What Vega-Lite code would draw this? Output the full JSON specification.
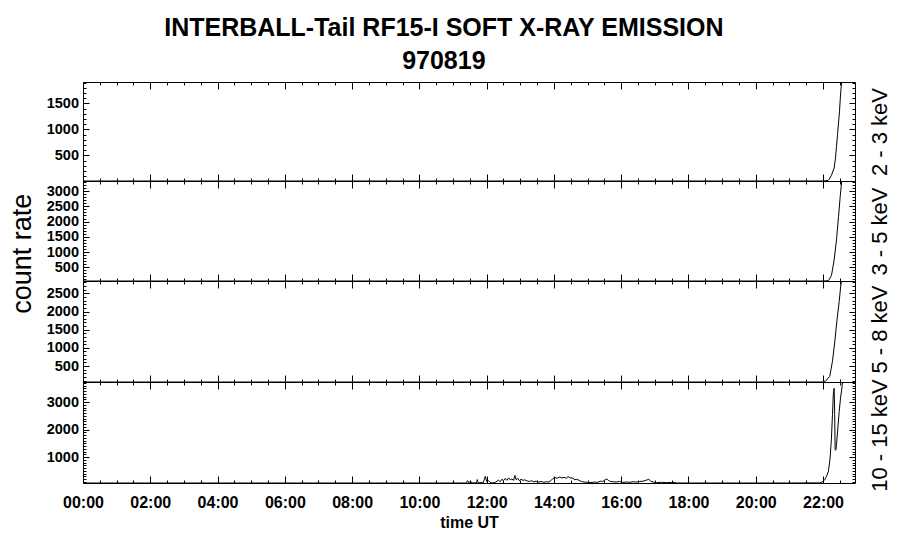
{
"$schema": "https://vega.github.io/schema/vega-lite/v6.json",
"background": "white",
"padding": {"left": 9, "top": 15, "right": 5, "bottom": 5},
"config": {
  "view": {"stroke": null},
  "font": "Liberation Sans",
  "axis": {"labelFont": "Liberation Sans", "labelFontSize": 16, "labelFontWeight": "bold", "labelColor": "black", "titleFont": "Liberation Sans", "titleColor": "black", "titleFontWeight": "normal", "domainColor": "black", "tickColor": "black", "domainWidth": 1, "tickWidth": 1, "labelOverlap": false, "labelFlush": false, "labelBound": false, "grid": false}
},
"title": {"text": ["INTERBALL-Tail RF15-I SOFT X-RAY EMISSION", "970819"], "font": "Liberation Sans", "fontSize": 25, "fontWeight": "bold", "color": "black", "lineHeight": 33, "anchor": "middle", "frame": "bounds", "offset": 8, "dx": -6},
"datasets": {
  "p1": [{"t":0,"v":10},{"t":11,"v":10},{"t":22.0,"v":10},{"t":22.15,"v":20},{"t":22.18,"v":42},{"t":22.25,"v":120},{"t":22.33,"v":260},{"t":22.37,"v":450},{"t":22.4,"v":670},{"t":22.43,"v":900},{"t":22.46,"v":1125},{"t":22.49,"v":1350},{"t":22.51,"v":1567},{"t":22.53,"v":1750},{"t":22.55,"v":1894},{"t":22.56,"v":1910}],
  "p2": [{"t":0,"v":50},{"t":11,"v":50},{"t":22.0,"v":50},{"t":22.15,"v":60},{"t":22.18,"v":90},{"t":22.25,"v":230},{"t":22.28,"v":413},{"t":22.33,"v":740},{"t":22.4,"v":1400},{"t":22.46,"v":2160},{"t":22.51,"v":2820},{"t":22.55,"v":3260},{"t":22.56,"v":3330}],
  "p3": [{"t":0,"v":60},{"t":11,"v":60},{"t":22.0,"v":60},{"t":22.08,"v":90},{"t":22.2,"v":218},{"t":22.28,"v":630},{"t":22.35,"v":1180},{"t":22.41,"v":1730},{"t":22.48,"v":2280},{"t":22.53,"v":2740},{"t":22.55,"v":2840}],
  "p4": [{"t":0,"v":55},{"t":10,"v":55},{"t":11.4,"v":55},{"t":11.43,"v":140},{"t":11.47,"v":60},{"t":11.52,"v":120},{"t":11.56,"v":60},{"t":11.7,"v":60},{"t":11.72,"v":180},{"t":11.75,"v":60},{"t":11.9,"v":70},{"t":11.96,"v":300},{"t":12.0,"v":110},{"t":12.05,"v":150},{"t":12.1,"v":80},{"t":12.15,"v":60},{"t":12.25,"v":70},{"t":12.35,"v":160},{"t":12.4,"v":100},{"t":12.45,"v":190},{"t":12.5,"v":140},{"t":12.55,"v":220},{"t":12.6,"v":150},{"t":12.65,"v":240},{"t":12.7,"v":170},{"t":12.75,"v":200},{"t":12.8,"v":150},{"t":12.84,"v":330},{"t":12.88,"v":170},{"t":12.92,"v":230},{"t":12.97,"v":140},{"t":13.02,"v":190},{"t":13.08,"v":150},{"t":13.13,"v":170},{"t":13.2,"v":130},{"t":13.27,"v":110},{"t":13.33,"v":140},{"t":13.4,"v":100},{"t":13.47,"v":120},{"t":13.55,"v":90},{"t":13.62,"v":110},{"t":13.7,"v":80},{"t":13.78,"v":100},{"t":13.85,"v":90},{"t":13.92,"v":150},{"t":13.97,"v":220},{"t":14.03,"v":250},{"t":14.1,"v":230},{"t":14.17,"v":270},{"t":14.23,"v":240},{"t":14.3,"v":260},{"t":14.37,"v":230},{"t":14.42,"v":290},{"t":14.48,"v":240},{"t":14.55,"v":230},{"t":14.62,"v":180},{"t":14.68,"v":190},{"t":14.75,"v":150},{"t":14.82,"v":110},{"t":14.9,"v":90},{"t":15.0,"v":80},{"t":15.1,"v":70},{"t":15.2,"v":90},{"t":15.3,"v":80},{"t":15.38,"v":120},{"t":15.45,"v":110},{"t":15.52,"v":170},{"t":15.57,"v":200},{"t":15.62,"v":150},{"t":15.68,"v":110},{"t":15.75,"v":100},{"t":15.85,"v":90},{"t":15.95,"v":110},{"t":16.05,"v":80},{"t":16.15,"v":90},{"t":16.25,"v":80},{"t":16.35,"v":100},{"t":16.45,"v":90},{"t":16.55,"v":110},{"t":16.65,"v":120},{"t":16.75,"v":160},{"t":16.82,"v":190},{"t":16.88,"v":120},{"t":16.95,"v":90},{"t":17.05,"v":70},{"t":17.2,"v":80},{"t":17.35,"v":70},{"t":17.5,"v":75},{"t":17.62,"v":70},{"t":17.66,"v":55},{"t":21.0,"v":55},{"t":21.9,"v":60},{"t":21.95,"v":80},{"t":22.0,"v":110},{"t":22.05,"v":170},{"t":22.1,"v":290},{"t":22.16,"v":480},{"t":22.21,"v":960},{"t":22.25,"v":1690},{"t":22.28,"v":2540},{"t":22.31,"v":3390},{"t":22.33,"v":3500},{"t":22.345,"v":2600},{"t":22.36,"v":1270},{"t":22.38,"v":1250},{"t":22.4,"v":1450},{"t":22.44,"v":2050},{"t":22.48,"v":2660},{"t":22.52,"v":3150},{"t":22.56,"v":3510},{"t":22.58,"v":3730}]
},
"spacing": 0,
"vconcat": [
 {
  "title": {"text": "count rate", "orient": "left", "font": "Liberation Sans", "fontSize": 27, "fontWeight": "normal", "color": "black", "anchor": "middle", "frame": "bounds", "offset": 9, "dx": 52},
  "spacing": 0,
  "bounds": "flush",
  "vconcat": [
   {
    "data": {"name": "p1"},
    "width": 772, "height": 99,
    "resolve": {"axis": {"x": "independent", "y": "independent"}},
    "layer": [
     {"mark": {"type": "line", "color": "black", "strokeWidth": 1, "clip": true},
      "encoding": {
       "x": {"field": "t", "type": "quantitative", "scale": {"domain": [0, 22.95], "nice": false, "zero": false}, "axis": {"orient": "bottom", "values": [0,2,4,6,8,10,12,14,16,18,20,22], "tickSize": -7, "labels": false, "title": null}},
       "y": {"field": "v", "type": "quantitative", "scale": {"domain": [10, 1910], "nice": false, "zero": false}, "axis": {"orient": "left", "values": [500,1000,1500], "format": "d", "labelFontSize": 14.5, "tickSize": -6, "labelPadding": 10.5, "title": null}}}},
     {"mark": {"type": "line", "opacity": 0},
      "encoding": {
       "x": {"field": "t", "type": "quantitative", "scale": {"domain": [0, 22.95], "nice": false, "zero": false}, "axis": {"orient": "bottom", "values": [0.5,1,1.5,2.5,3,3.5,4.5,5,5.5,6.5,7,7.5,8.5,9,9.5,10.5,11,11.5,12.5,13,13.5,14.5,15,15.5,16.5,17,17.5,18.5,19,19.5,20.5,21,21.5,22.5], "tickSize": -3, "labels": false, "domain": false, "title": null}},
       "y": {"field": "v", "type": "quantitative", "scale": {"domain": [10, 1910], "nice": false, "zero": false}, "axis": {"orient": "left", "values": [100,200,300,400,500,600,700,800,900,1000,1100,1200,1300,1400,1500,1600,1700,1800,1900], "tickSize": -3, "labels": false, "domain": false, "title": null}}}},
     {"mark": {"type": "line", "opacity": 0},
      "encoding": {
       "x": {"field": "t", "type": "quantitative", "scale": {"domain": [0, 22.95], "nice": false, "zero": false}, "axis": {"orient": "top", "values": [0,2,4,6,8,10,12,14,16,18,20,22], "tickSize": -7, "labels": false, "title": null}},
       "y": {"field": "v", "type": "quantitative", "scale": {"domain": [10, 1910], "nice": false, "zero": false}, "axis": {"orient": "right", "values": [500,1000,1500], "tickSize": -6, "labels": false, "title": "2 - 3 keV", "titleAngle": 270, "titleBaseline": "top", "titleFontSize": 22, "titlePadding": 14}}}},
     {"mark": {"type": "line", "opacity": 0},
      "encoding": {
       "x": {"field": "t", "type": "quantitative", "scale": {"domain": [0, 22.95], "nice": false, "zero": false}, "axis": {"orient": "top", "values": [0.5,1,1.5,2.5,3,3.5,4.5,5,5.5,6.5,7,7.5,8.5,9,9.5,10.5,11,11.5,12.5,13,13.5,14.5,15,15.5,16.5,17,17.5,18.5,19,19.5,20.5,21,21.5,22.5], "tickSize": -3, "labels": false, "domain": false, "title": null}},
       "y": {"field": "v", "type": "quantitative", "scale": {"domain": [10, 1910], "nice": false, "zero": false}, "axis": {"orient": "right", "values": [100,200,300,400,500,600,700,800,900,1000,1100,1200,1300,1400,1500,1600,1700,1800,1900], "tickSize": -3, "labels": false, "domain": false, "title": null}}}}
    ]
   },
   {
    "data": {"name": "p2"},
    "width": 772, "height": 100,
    "resolve": {"axis": {"x": "independent", "y": "independent"}},
    "layer": [
     {"mark": {"type": "line", "color": "black", "strokeWidth": 1, "clip": true},
      "encoding": {
       "x": {"field": "t", "type": "quantitative", "scale": {"domain": [0, 22.95], "nice": false, "zero": false}, "axis": {"orient": "bottom", "values": [0,2,4,6,8,10,12,14,16,18,20,22], "tickSize": -7, "labels": false, "title": null}},
       "y": {"field": "v", "type": "quantitative", "scale": {"domain": [50, 3330], "nice": false, "zero": false}, "axis": {"orient": "left", "values": [500,1000,1500,2000,2500,3000], "format": "d", "labelFontSize": 14.5, "tickSize": -6, "labelPadding": 10.5, "title": null}}}},
     {"mark": {"type": "line", "opacity": 0},
      "encoding": {
       "x": {"field": "t", "type": "quantitative", "scale": {"domain": [0, 22.95], "nice": false, "zero": false}, "axis": {"orient": "bottom", "values": [0.5,1,1.5,2.5,3,3.5,4.5,5,5.5,6.5,7,7.5,8.5,9,9.5,10.5,11,11.5,12.5,13,13.5,14.5,15,15.5,16.5,17,17.5,18.5,19,19.5,20.5,21,21.5,22.5], "tickSize": -3, "labels": false, "domain": false, "title": null}},
       "y": {"field": "v", "type": "quantitative", "scale": {"domain": [50, 3330], "nice": false, "zero": false}, "axis": {"orient": "left", "values": [100,200,300,400,500,600,700,800,900,1000,1100,1200,1300,1400,1500,1600,1700,1800,1900,2000,2100,2200,2300,2400,2500,2600,2700,2800,2900,3000,3100,3200,3300], "tickSize": -3, "labels": false, "domain": false, "title": null}}}},
     {"mark": {"type": "line", "opacity": 0},
      "encoding": {
       "x": {"field": "t", "type": "quantitative", "scale": {"domain": [0, 22.95], "nice": false, "zero": false}, "axis": {"orient": "top", "values": [0,2,4,6,8,10,12,14,16,18,20,22], "tickSize": -7, "labels": false, "title": null}},
       "y": {"field": "v", "type": "quantitative", "scale": {"domain": [50, 3330], "nice": false, "zero": false}, "axis": {"orient": "right", "values": [500,1000,1500,2000,2500,3000], "tickSize": -6, "labels": false, "title": "3 - 5 keV", "titleAngle": 270, "titleBaseline": "top", "titleFontSize": 22, "titlePadding": 14}}}},
     {"mark": {"type": "line", "opacity": 0},
      "encoding": {
       "x": {"field": "t", "type": "quantitative", "scale": {"domain": [0, 22.95], "nice": false, "zero": false}, "axis": {"orient": "top", "values": [0.5,1,1.5,2.5,3,3.5,4.5,5,5.5,6.5,7,7.5,8.5,9,9.5,10.5,11,11.5,12.5,13,13.5,14.5,15,15.5,16.5,17,17.5,18.5,19,19.5,20.5,21,21.5,22.5], "tickSize": -3, "labels": false, "domain": false, "title": null}},
       "y": {"field": "v", "type": "quantitative", "scale": {"domain": [50, 3330], "nice": false, "zero": false}, "axis": {"orient": "right", "values": [100,200,300,400,500,600,700,800,900,1000,1100,1200,1300,1400,1500,1600,1700,1800,1900,2000,2100,2200,2300,2400,2500,2600,2700,2800,2900,3000,3100,3200,3300], "tickSize": -3, "labels": false, "domain": false, "title": null}}}}
    ]
   },
   {
    "data": {"name": "p3"},
    "width": 772, "height": 101,
    "resolve": {"axis": {"x": "independent", "y": "independent"}},
    "layer": [
     {"mark": {"type": "line", "color": "black", "strokeWidth": 1, "clip": true},
      "encoding": {
       "x": {"field": "t", "type": "quantitative", "scale": {"domain": [0, 22.95], "nice": false, "zero": false}, "axis": {"orient": "bottom", "values": [0,2,4,6,8,10,12,14,16,18,20,22], "tickSize": -7, "labels": false, "title": null}},
       "y": {"field": "v", "type": "quantitative", "scale": {"domain": [60, 2840], "nice": false, "zero": false}, "axis": {"orient": "left", "values": [500,1000,1500,2000,2500], "format": "d", "labelFontSize": 14.5, "tickSize": -6, "labelPadding": 10.5, "title": null}}}},
     {"mark": {"type": "line", "opacity": 0},
      "encoding": {
       "x": {"field": "t", "type": "quantitative", "scale": {"domain": [0, 22.95], "nice": false, "zero": false}, "axis": {"orient": "bottom", "values": [0.5,1,1.5,2.5,3,3.5,4.5,5,5.5,6.5,7,7.5,8.5,9,9.5,10.5,11,11.5,12.5,13,13.5,14.5,15,15.5,16.5,17,17.5,18.5,19,19.5,20.5,21,21.5,22.5], "tickSize": -3, "labels": false, "domain": false, "title": null}},
       "y": {"field": "v", "type": "quantitative", "scale": {"domain": [60, 2840], "nice": false, "zero": false}, "axis": {"orient": "left", "values": [100,200,300,400,500,600,700,800,900,1000,1100,1200,1300,1400,1500,1600,1700,1800,1900,2000,2100,2200,2300,2400,2500,2600,2700,2800], "tickSize": -3, "labels": false, "domain": false, "title": null}}}},
     {"mark": {"type": "line", "opacity": 0},
      "encoding": {
       "x": {"field": "t", "type": "quantitative", "scale": {"domain": [0, 22.95], "nice": false, "zero": false}, "axis": {"orient": "top", "values": [0,2,4,6,8,10,12,14,16,18,20,22], "tickSize": -7, "labels": false, "title": null}},
       "y": {"field": "v", "type": "quantitative", "scale": {"domain": [60, 2840], "nice": false, "zero": false}, "axis": {"orient": "right", "values": [500,1000,1500,2000,2500], "tickSize": -6, "labels": false, "title": "5 - 8 keV", "titleAngle": 270, "titleBaseline": "top", "titleFontSize": 22, "titlePadding": 14, "titleY": 48}}}},
     {"mark": {"type": "line", "opacity": 0},
      "encoding": {
       "x": {"field": "t", "type": "quantitative", "scale": {"domain": [0, 22.95], "nice": false, "zero": false}, "axis": {"orient": "top", "values": [0.5,1,1.5,2.5,3,3.5,4.5,5,5.5,6.5,7,7.5,8.5,9,9.5,10.5,11,11.5,12.5,13,13.5,14.5,15,15.5,16.5,17,17.5,18.5,19,19.5,20.5,21,21.5,22.5], "tickSize": -3, "labels": false, "domain": false, "title": null}},
       "y": {"field": "v", "type": "quantitative", "scale": {"domain": [60, 2840], "nice": false, "zero": false}, "axis": {"orient": "right", "values": [100,200,300,400,500,600,700,800,900,1000,1100,1200,1300,1400,1500,1600,1700,1800,1900,2000,2100,2200,2300,2400,2500,2600,2700,2800], "tickSize": -3, "labels": false, "domain": false, "title": null}}}}
    ]
   },
   {
    "data": {"name": "p4"},
    "width": 772, "height": 101,
    "resolve": {"axis": {"x": "independent", "y": "independent"}},
    "layer": [
     {"mark": {"type": "line", "color": "black", "strokeWidth": 1, "clip": true},
      "encoding": {
       "x": {"field": "t", "type": "quantitative", "scale": {"domain": [0, 22.95], "nice": false, "zero": false}, "axis": {"orient": "bottom", "values": [0,2,4,6,8,10,12,14,16,18,20,22], "tickSize": -7, "labels": true, "labelPadding": 18, "labelExpr": "(datum.value < 10 ? '0' : '') + datum.value + ':00'", "title": "time UT", "titleFontSize": 16, "titleFontWeight": "bold", "titlePadding": 4}},
       "y": {"field": "v", "type": "quantitative", "scale": {"domain": [55, 3730], "nice": false, "zero": false}, "axis": {"orient": "left", "values": [1000,2000,3000], "format": "d", "labelFontSize": 14.5, "tickSize": -6, "labelPadding": 10.5, "title": null}}}},
     {"mark": {"type": "line", "opacity": 0},
      "encoding": {
       "x": {"field": "t", "type": "quantitative", "scale": {"domain": [0, 22.95], "nice": false, "zero": false}, "axis": {"orient": "bottom", "values": [0.5,1,1.5,2.5,3,3.5,4.5,5,5.5,6.5,7,7.5,8.5,9,9.5,10.5,11,11.5,12.5,13,13.5,14.5,15,15.5,16.5,17,17.5,18.5,19,19.5,20.5,21,21.5,22.5], "tickSize": -3, "labels": false, "domain": false, "title": null}},
       "y": {"field": "v", "type": "quantitative", "scale": {"domain": [55, 3730], "nice": false, "zero": false}, "axis": {"orient": "left", "values": [100,200,300,400,500,600,700,800,900,1000,1100,1200,1300,1400,1500,1600,1700,1800,1900,2000,2100,2200,2300,2400,2500,2600,2700,2800,2900,3000,3100,3200,3300,3400,3500,3600,3700], "tickSize": -3, "labels": false, "domain": false, "title": null}}}},
     {"mark": {"type": "line", "opacity": 0},
      "encoding": {
       "x": {"field": "t", "type": "quantitative", "scale": {"domain": [0, 22.95], "nice": false, "zero": false}, "axis": {"orient": "top", "values": [0,2,4,6,8,10,12,14,16,18,20,22], "tickSize": -7, "labels": false, "title": null}},
       "y": {"field": "v", "type": "quantitative", "scale": {"domain": [55, 3730], "nice": false, "zero": false}, "axis": {"orient": "right", "values": [1000,2000,3000], "tickSize": -6, "labels": false, "title": "10 - 15 keV", "titleAngle": 270, "titleBaseline": "top", "titleFontSize": 22, "titlePadding": 14, "titleY": 53}}}},
     {"mark": {"type": "line", "opacity": 0},
      "encoding": {
       "x": {"field": "t", "type": "quantitative", "scale": {"domain": [0, 22.95], "nice": false, "zero": false}, "axis": {"orient": "top", "values": [0.5,1,1.5,2.5,3,3.5,4.5,5,5.5,6.5,7,7.5,8.5,9,9.5,10.5,11,11.5,12.5,13,13.5,14.5,15,15.5,16.5,17,17.5,18.5,19,19.5,20.5,21,21.5,22.5], "tickSize": -3, "labels": false, "domain": false, "title": null}},
       "y": {"field": "v", "type": "quantitative", "scale": {"domain": [55, 3730], "nice": false, "zero": false}, "axis": {"orient": "right", "values": [100,200,300,400,500,600,700,800,900,1000,1100,1200,1300,1400,1500,1600,1700,1800,1900,2000,2100,2200,2300,2400,2500,2600,2700,2800,2900,3000,3100,3200,3300,3400,3500,3600,3700], "tickSize": -3, "labels": false, "domain": false, "title": null}}}}
    ]
   }
  ]
 }
]
}
